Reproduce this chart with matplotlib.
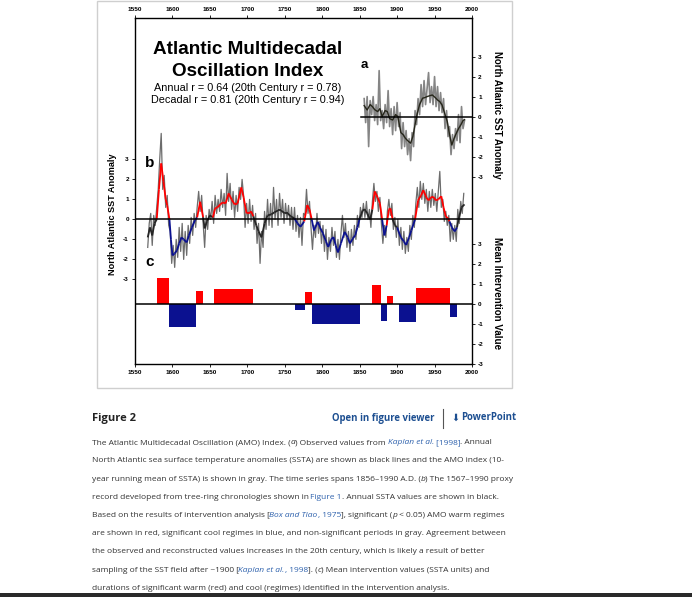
import numpy as np
import matplotlib
matplotlib.use('Agg')
import matplotlib.pyplot as plt
from matplotlib.collections import LineCollection

plt.rcParams['font.family'] = ['Liberation Sans', 'DejaVu Sans']

W, H = 692, 597

# panel a: observed SSTA (every 2nd year) and 10-yr running mean
a_years = np.arange(1856, 1991, 2)
a_annual = np.array([
    0.9, -0.3, 1.0, -1.5, 0.8, 0.1, 1.0, -0.2, 0.6, -0.4,
    2.3, -0.2, 0.3, -0.6, 0.6, -0.3, 1.3, -0.5, 0.4, -0.9,
    0.5, -0.7, 0.7, -0.5, 0.2, -1.6, -0.3, -1.5, -0.7, -1.9,
    -1.1, -2.2, -0.8, -1.5, 0.3, -0.4, 0.9, 0.1, 1.6, 0.5,
    1.8, 0.6, 1.4, 2.2, 0.7, 1.5, 0.6, 2.0, 0.5, 1.5,
    0.3, 1.2, 0.2, 0.9, -0.6, 0.3, -1.0, -0.5, -1.9, -0.9,
    -1.6, -0.6, -1.2, 0.1, -1.3, 0.5, -0.6, -0.2])
a_smooth_years = [1856, 1860, 1864, 1867, 1870, 1874, 1877, 1880, 1884, 1887,
                  1890, 1894, 1898, 1901, 1905, 1908, 1911, 1914, 1918, 1921,
                  1924, 1927, 1930, 1934, 1937, 1940, 1944, 1947, 1951, 1954,
                  1957, 1960, 1964, 1967, 1970, 1973, 1976, 1978, 1982, 1985,
                  1988, 1990]
a_smooth = np.array([0.55, 0.33, 0.6, 0.5, 0.35, 0.25, 0.4, 0.0, 0.3, 0.25,
                     -0.1, -0.17, 0.1, 0.0, -0.8, -0.9, -1.08, -1.2, -1.33, -1.0,
                     -0.4, 0.17, 0.6, 0.92, 0.95, 1.0, 1.05, 1.08, 0.95, 0.83,
                     0.75, 0.58, 0.1, -0.25, -0.9, -1.42, -1.1, -0.92, -0.6, -0.42,
                     -0.2, -0.15])

# panel b: tree-ring proxy (every 2nd year) and smoothed index
b_years = np.arange(1567, 1990, 2)
b_annual = np.array([
    -1.4, -0.2, 0.3, -1.3, 0.2, -0.3, 0.6, 1.5, 3.0, 4.3,
    1.5, 2.2, 0.6, 1.2, -0.3, -0.6, -2.2, -1.3, -2.4, -1.0,
    -1.9, -0.4, -1.6, -0.2, -2.0, -0.6, -1.8, -0.3, -1.2, 0.1,
    -0.8, 0.3, -0.4, 0.6, 1.4, 0.4, 1.2, -0.2, -1.4, 0.2,
    -0.5, 0.5, 0.0, 0.9, -0.2, 1.2, 0.3, 1.0, 0.4, 1.5,
    0.6, 1.3, 0.2, 2.3, 0.9, 1.8, 0.5, 1.4, 0.1, 1.2,
    0.4, 1.6, 1.0, 2.0, 1.2, -0.4, 0.8, -0.2, 1.0, -0.1,
    0.7, -0.5, 0.3, -1.2, -0.2, -2.2, -0.6, -1.4, 0.4, -0.5,
    1.0, -0.3, 0.8, -0.4, 1.6, 0.0, 1.0, -0.3, 1.3, 0.1,
    1.0, -0.2, 0.8, 0.0, 0.7, -0.3, 0.6, -0.5, 0.6, -0.6,
    0.2, -0.9, 0.1, -1.3, 0.3, 0.2, 1.5, 0.3, 0.9, -0.4,
    -1.5, -0.3, -0.9, 0.3, -0.7, -0.1, -1.2, -0.3, -1.6, -0.5,
    -2.0, -0.9, -1.6, -0.4, -1.3, -0.6, -1.9, -1.0, -2.0, -0.7,
    0.2, -0.9, -0.2, -1.4, -0.6, -1.6, -0.5, -1.3, -0.3, -1.0,
    0.2, -0.4, 0.6, 0.1, 0.8, 0.1, 0.9, 0.0, 0.5, -0.4,
    0.9, 1.8, 0.9, 1.4, 0.4, 1.1, -0.2, -1.2, -0.3, -0.9,
    0.4, 1.0, 0.2, 0.8, -0.5, 0.1, -0.9, 0.0, -1.3, -0.4,
    -1.5, -0.6, -1.7, -0.9, -1.6, -0.3, -1.0, 0.2, -0.4, 0.8,
    1.6, 0.6, 1.9, 1.0, 1.8, 0.8, 1.5, 0.4, 1.4, 0.6,
    1.5, 0.7, 1.3, 0.4, 1.4, 2.4, 0.6, 1.0, -0.1, 0.4,
    -0.3, 0.2, -1.1, -0.2, -1.0, -0.3, -1.1, 0.5, -0.2, 0.9,
    0.3, 1.3])
b_smooth_years = [1567, 1570, 1573, 1576, 1579, 1582, 1585, 1588, 1591, 1593,
                  1596, 1598, 1600, 1603, 1606, 1609, 1612, 1615, 1619, 1622,
                  1626, 1630, 1633, 1637, 1641, 1643, 1646, 1650, 1654, 1657,
                  1660, 1664, 1667, 1671, 1675, 1679, 1683, 1687, 1692, 1695,
                  1699, 1702, 1705, 1708, 1712, 1715, 1719, 1723, 1727, 1732,
                  1736, 1741, 1745, 1750, 1754, 1758, 1763, 1767, 1771, 1776,
                  1780, 1783, 1786, 1789, 1794, 1797, 1801, 1805, 1808, 1812,
                  1815, 1818, 1821, 1825, 1830, 1834, 1837, 1841, 1844, 1847,
                  1850, 1854, 1857, 1860, 1864, 1867, 1870, 1874, 1877, 1880,
                  1883, 1886, 1889, 1891, 1894, 1897, 1900, 1905, 1909, 1912,
                  1916, 1919, 1924, 1928, 1932, 1935, 1939, 1942, 1945, 1948,
                  1952, 1955, 1959, 1962, 1965, 1968, 1970, 1973, 1977, 1980,
                  1982, 1986, 1990]
b_smooth = np.array([-0.9, -0.4, -0.8, -0.2, 0.0, 1.5, 2.8, 1.9, 1.0, 0.7,
                     0.0, -1.0, -1.8, -1.7, -1.55, -1.2, -0.9, -1.0, -1.15, -0.8,
                     -0.4, -0.05, 0.1, 0.88, 0.1, -0.45, -0.1, 0.2, 0.1, 0.55,
                     0.6, 0.75, 0.85, 0.8, 1.3, 1.0, 0.75, 0.8, 1.6, 1.1,
                     0.3, 0.3, 0.4, 0.15, -0.3, -0.6, -0.9, -0.2, 0.2, 0.25,
                     0.35, 0.45, 0.45, 0.3, 0.3, 0.15, 0.05, -0.2, -0.37, -0.1,
                     0.72, 0.5, 0.0, -0.55, -0.12, -0.4, -0.7, -1.1, -1.38, -1.0,
                     -0.88, -1.3, -1.65, -1.2, -0.62, -0.9, -1.2, -0.95, -0.8, -0.4,
                     0.05, 0.45, 0.5, 0.3, 0.0, 0.5, 1.4, 1.1, 0.8, 0.0,
                     -0.8, -0.3, 0.5, 0.55, 0.0, -0.3, -0.4, -0.9, -1.1, -1.28,
                     -0.9, -0.55, 0.0, 0.95, 1.2, 1.46, 1.1, 0.95, 1.1, 1.13,
                     0.95, 1.0, 1.16, 0.6, 0.15, 0.05, -0.1, -0.4, -0.6, -0.4,
                     0.0, 0.6, 0.75])

# panel c: intervention regimes
c_start = [1579, 1596, 1632, 1655, 1764, 1777, 1786, 1867, 1879, 1886, 1902, 1925, 1970]
c_end = [1596, 1632, 1641, 1708, 1777, 1786, 1850, 1879, 1886, 1894, 1925, 1970, 1980]
c_value = [1.3, -1.14, 0.65, 0.75, -0.32, 0.6, -0.98, 0.95, -0.85, 0.41, -0.9, 0.82, -0.64]

tick_years = list(range(1550, 2001, 50))
tick_units = [-3, -2, -1, 0, 1, 2, 3]

# vertical offsets of the three stacked panels (units of the anomaly scale)
A0, B0, C0 = 12.37, 7.23, 3.0
RED, BLUE, DARK = '#ff0000', '#0b1190', '#262626'


def fx(x):
    return x / W


def fy(y):
    return 1 - y / H


fig = plt.figure(figsize=(W / 100, H / 100), dpi=100)
fig.patch.set_facecolor('white')

#outer image border and bottom bar
fig.add_artist(plt.Rectangle((fx(97), fy(388)), fx(512) - fx(97), fy(0.5) - fy(388),
                             transform=fig.transFigure, fill=False, ec='#cfcfcf', lw=1))
fig.add_artist(plt.Rectangle((0, fy(597)), 1, fy(593) - fy(597),
                             transform=fig.transFigure, color='#2a2a2a', lw=0))

ax = fig.add_axes([fx(135), fy(364), fx(472) - fx(135), fy(18) - fy(364)])
ax.set_xlim(1550, 2000)
ax.set_ylim(0, 17.3)

#panel a
ax.plot(a_years, a_annual + A0, color='#858585', lw=1.2, zorder=2)
ax.plot(a_smooth_years, a_smooth + A0, color='#26261a', lw=1.0, zorder=3)
ax.axhline(A0, xmin=(a_years[0] - 4 - 1550) / 450, xmax=1, color='k', lw=1.1, zorder=4)

#panel b
ax.plot(b_years, b_annual + B0, color='#6c6c6c', lw=0.9, zorder=2)
ax.axhline(B0, color='k', lw=1.1, zorder=4)


def regime_color(year):
    for s, e, v in zip(c_start, c_end, c_value):
        if s <= year < e:
            return RED if v > 0 else BLUE
    return DARK


segs, cols = [], []
for i in range(len(b_smooth_years) - 1):
    x0, x1 = b_smooth_years[i], b_smooth_years[i + 1]
    segs.append([(x0, b_smooth[i] + B0), (x1, b_smooth[i + 1] + B0)])
    cols.append(regime_color(0.5 * (x0 + x1)))
ax.add_collection(LineCollection(segs, colors=cols, linewidths=1.3, zorder=3))

#panel c
widths = [e - s for s, e in zip(c_start, c_end)]
ax.bar(c_start, c_value, width=widths, bottom=C0, align='edge',
       color=[RED if v > 0 else BLUE for v in c_value], lw=0, zorder=2)
ax.axhline(C0, color='k', lw=1.1, zorder=4)

for sp in ax.spines.values():
    sp.set_linewidth(1.0)
    sp.set_color('black')

ax.set_xticks(tick_years)
ax.set_xticklabels([str(y) for y in tick_years])
ax.tick_params(axis='x', top=True, labeltop=True, direction='out', length=2,
               width=0.6, pad=2.5, labelsize=4.6)
ax.set_yticks([B0 + u for u in tick_units])
ax.set_yticklabels([str(u) for u in tick_units])
ax.tick_params(axis='y', direction='out', length=2, width=0.6, pad=2.5, labelsize=4.6)

ax2 = ax.twinx()
ax2.set_ylim(ax.get_ylim())
ax2.set_yticks([C0 + u for u in tick_units] + [A0 + u for u in tick_units])
ax2.set_yticklabels([str(u) for u in tick_units] * 2)
ax2.tick_params(axis='y', direction='out', length=2, width=0.6, pad=2.5, labelsize=4.6)
for sp in ax2.spines.values():
    sp.set_visible(False)

for lbl in ax.get_xticklabels() + ax.get_yticklabels() + ax2.get_yticklabels():
    lbl.set_fontweight('bold')

#labels inside the figure
fig.text(fx(248), fy(49), 'Atlantic Multidecadal', ha='center', va='center',
         fontsize=13.6, fontweight='bold')
fig.text(fx(248), fy(71), 'Oscillation Index', ha='center', va='center',
         fontsize=13.6, fontweight='bold')
fig.text(fx(248), fy(88), 'Annual r = 0.64 (20th Century r = 0.78)', ha='center',
         va='center', fontsize=7.8)
fig.text(fx(248), fy(100), 'Decadal r = 0.81 (20th Century r = 0.94)', ha='center',
         va='center', fontsize=7.8)
fig.text(fx(364), fy(65), 'a', ha='center', va='center', fontsize=9.5, fontweight='bold')
fig.text(fx(150), fy(163), 'b', ha='center', va='center', fontsize=11, fontweight='bold')
fig.text(fx(150), fy(262), 'c', ha='center', va='center', fontsize=11, fontweight='bold')

fig.text(fx(113), fy(214), 'North Atlantic SST Anomaly', rotation=90, ha='center',
         va='center', fontsize=6.6, fontweight='bold')
fig.text(fx(497), fy(115), 'North Atlantic SST Anomaly', rotation=-90, ha='center',
         va='center', fontsize=6.9, fontweight='bold')
fig.text(fx(497), fy(293), 'Mean Intervention Value', rotation=-90, ha='center',
         va='center', fontsize=7.0, fontweight='bold')

#caption
TXT, LINK = '#333333', '#2f62ad'
CAP = ['Open Sans', 'DejaVu Sans']
renderer = fig.canvas.get_renderer()


def text_width(s, size, weight='normal', style='normal'):
    t = fig.text(0, 0, s + '|', fontsize=size, family=CAP, fontweight=weight, fontstyle=style)
    w = t.get_window_extent(renderer).width
    t.remove()
    t = fig.text(0, 0, '|', fontsize=size, family=CAP, fontweight=weight, fontstyle=style)
    w -= t.get_window_extent(renderer).width
    t.remove()
    return w


fig.text(fx(91.5), fy(419), 'Figure 2', ha='left', va='center', fontsize=8,
         family=CAP, fontweight='bold', color='#222222')
hs = 7.0 * 103 / text_width('Open in figure viewer', 7.0, 'bold')
fig.text(fx(331.5), fy(418), 'Open in figure viewer', ha='left', va='center',
         fontsize=hs, family=CAP, fontweight='bold', color='#1d4f91')
fig.add_artist(plt.Line2D([fx(443), fx(443)], [fy(409), fy(428)],
                          transform=fig.transFigure, color='#555555', lw=0.8))
fig.text(fx(451.5), fy(418), '\u2b07', ha='left', va='center', fontsize=hs,
         family=['DejaVu Sans'], color='#1d4f91')
fig.text(fx(461), fy(418), 'PowerPoint', ha='left', va='center', fontsize=hs,
         family=CAP, fontweight='bold', color='#1d4f91')

# (text, kind): 0 plain, 1 italic, 2 link, 3 italic link
caption = [
    [('The Atlantic Multidecadal Oscillation (AMO) Index. (', 0), ('a', 1),
     (') Observed values from ', 0), ('Kaplan et al.', 3), (' [1998]', 2), ('. Annual', 0)],
    [('North Atlantic sea surface temperature anomalies (SSTA) are shown as black lines and the AMO index (10-', 0)],
    [('year running mean of SSTA) is shown in gray. The time series spans 1856\u20131990 A.D. (', 0),
     ('b', 1), (') The 1567\u20131990 proxy', 0)],
    [('record developed from tree-ring chronologies shown in ', 0), ('Figure 1', 2),
     ('. Annual SSTA values are shown in black.', 0)],
    [('Based on the results of intervention analysis [', 0), ('Box and Tiao', 3), (', 1975', 2),
     ('], significant (', 0), ('p', 1), (' < 0.05) AMO warm regimes', 0)],
    [('are shown in red, significant cool regimes in blue, and non-significant periods in gray. Agreement between', 0)],
    [('the observed and reconstructed values increases in the 20th century, which is likely a result of better', 0)],
    [('sampling of the SST field after ~1900 [', 0), ('Kaplan et al.', 3), (', 1998', 2),
     ('].' + ' (', 0), ('c', 1), (') Mean intervention values (SSTA units) and', 0)],
    [('durations of significant warm (red) and cool (regimes) identified in the intervention analysis.', 0)],
]


def seg_style(kind):
    return 'italic' if kind in (1, 3) else 'normal'


cs = 6.0 * 400 / sum(text_width(s, 6.0, style=seg_style(k)) for s, k in caption[0])

for i, line in enumerate(caption):
    y = 442.7 + i * 18.2
    x = 91.5
    for s, kind in line:
        fig.text(fx(x), fy(y), s, ha='left', va='center', fontsize=cs, family=CAP,
                 color=LINK if kind >= 2 else TXT, fontstyle=seg_style(kind))
        x += text_width(s, cs, style=seg_style(kind))

fig.savefig('out.png', dpi=100, facecolor='white')
